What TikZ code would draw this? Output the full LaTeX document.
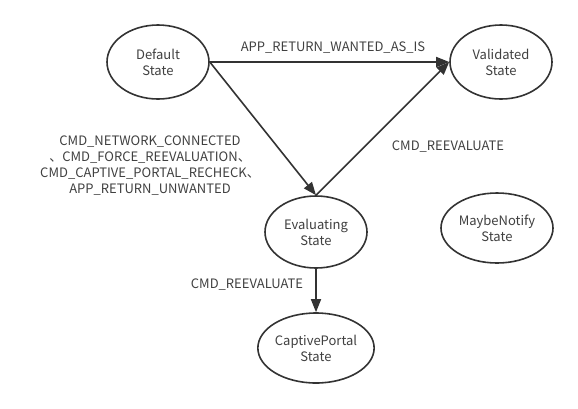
\documentclass[tikz,border=0pt]{standalone}
\usepackage{fontspec}
\setmainfont{Noto Sans CJK SC}
\usetikzlibrary{shapes.geometric,arrows.meta}
\definecolor{ink}{HTML}{333333}
\definecolor{txt}{HTML}{404040}
\tikzset{
  state/.style={ellipse, draw=ink, line width=1.6pt, fill=white, align=center,
    text=txt, font=\fontsize{13}{16}\selectfont, inner sep=0pt},
  lbl/.style={text=txt, font=\fontsize{13}{16}\selectfont, align=center, inner sep=0pt},
  arr/.style={draw=ink, line width=1.6pt, -{Triangle[length=13pt,width=10pt]}}
}
\begin{document}
\begin{tikzpicture}[x=1pt,y=-1pt]
\useasboundingbox (0,0) rectangle (578,408);
\node[state, minimum width=102pt, minimum height=74pt] (def) at (158,62) {Default\\State};
\node[state, minimum width=102pt, minimum height=74pt] (val) at (501,62) {Validated\\State};
\node[state, minimum width=102pt, minimum height=72pt] (eva) at (316,232) {Evaluating\\State};
\node[state, minimum width=104pt, minimum height=70pt] (cap) at (316,348) {CaptivePortal\\State};
\node[state, minimum width=112pt, minimum height=70pt] (may) at (497,228) {MaybeNotify\\State};
\draw[arr] (def.east) -- (val.west);
\draw[arr] (def.east) -- (eva.north);
\draw[arr] (eva.north) -- (val.west);
\draw[arr] (eva.south) -- (cap.north);
\node[lbl] (l1) at (333,48) {APP\_RETURN\_WANTED\_AS\_IS};
\node[lbl] (l2) at (448,147) {CMD\_REEVALUATE};
\node[lbl] (l3) at (247,285) {CMD\_REEVALUATE};
\node[lbl] (l4) at (150,166) {CMD\_NETWORK\_CONNECTED\\、CMD\_FORCE\_REEVALUATION、\\CMD\_CAPTIVE\_PORTAL\_RECHECK、\\APP\_RETURN\_UNWANTED};
\end{tikzpicture}
\end{document}
